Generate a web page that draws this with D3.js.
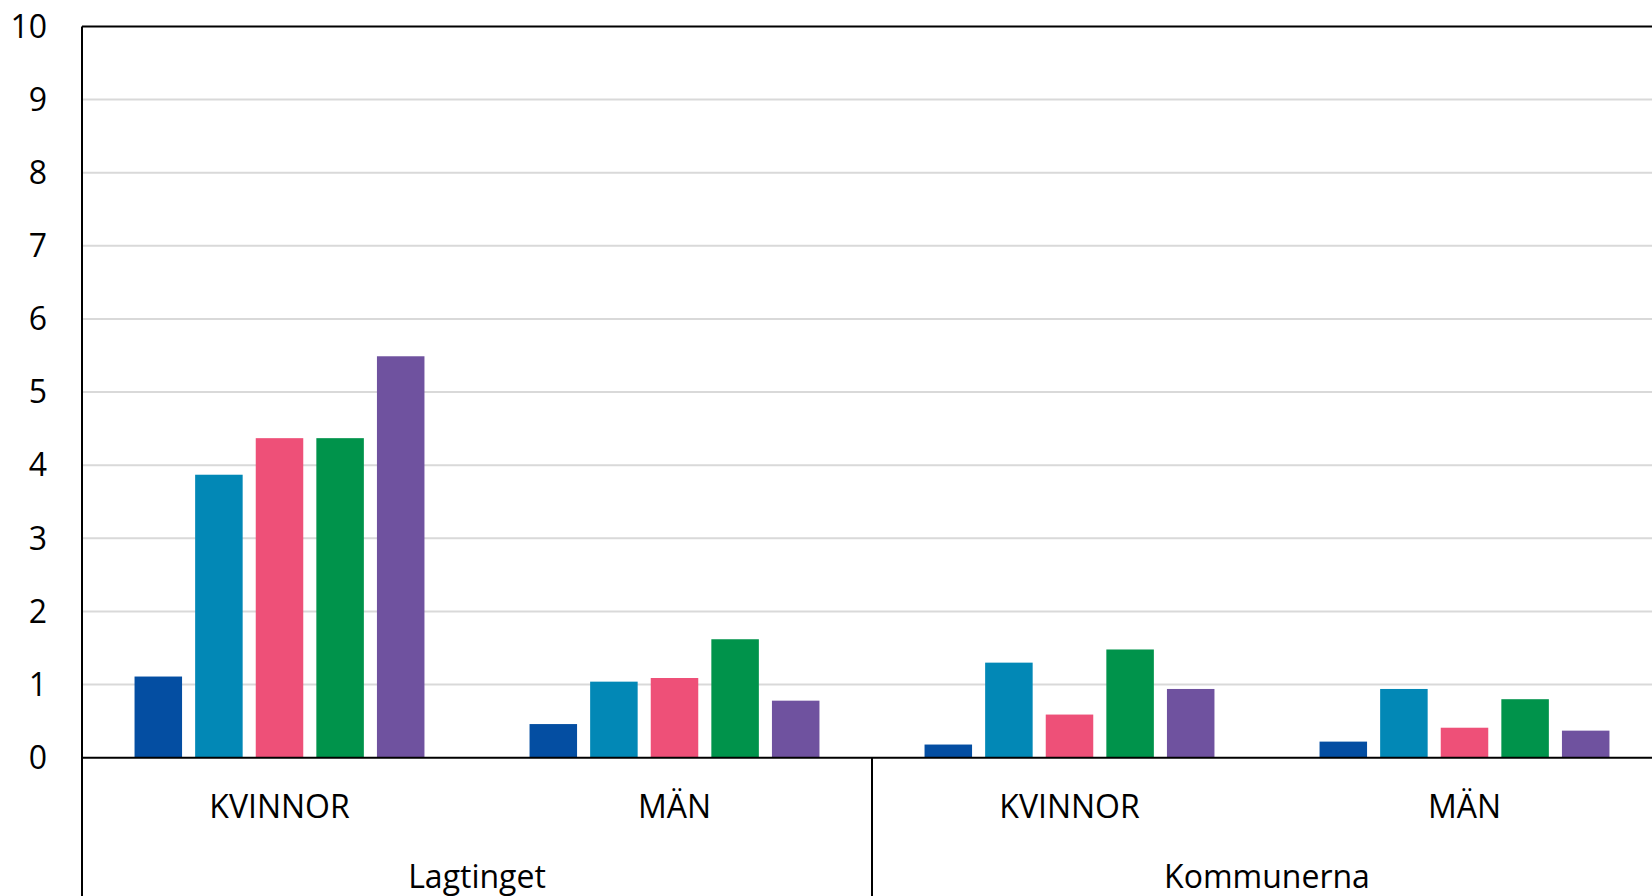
<!DOCTYPE html>
<html>
<head>
<meta charset="utf-8">
<script src="https://cdn.jsdelivr.net/npm/d3@7"></script>
<style>
  html, body { margin: 0; padding: 0; background: #fff; overflow: hidden; }
  #chart svg { display: block; }
  text { font-family: "Open Sans", "Noto Sans", sans-serif; fill: #000; }
</style>
</head>
<body>
<div id="chart"></div>
<script>
const __CONFIG__ = {
  main_id: "chart",
  width: 1652,
  height: 896,
  left: 82,
  right: 1662,   // plot runs past the window edge, as in the original
  top: 26.5,
  bottom: 757.7,
  font_size: 32
}

// groups and their sub categories
const groups = ["Lagtinget", "Kommunerna"];
const categories = ["KVINNOR", "MÄN"];
const y_ticks = [0, 1, 2, 3, 4, 5, 6, 7, 8, 9, 10];

// one array per series, order: Lagtinget KVINNOR, Lagtinget MÄN, Kommunerna KVINNOR, Kommunerna MÄN
const series_names = ["serie 1", "serie 2", "serie 3", "serie 4", "serie 5"];
const serie_1 = [1.11, 0.46, 0.18, 0.22];
const serie_2 = [3.87, 1.04, 1.30, 0.94];
const serie_3 = [4.37, 1.09, 0.59, 0.41];
const serie_4 = [4.37, 1.62, 1.48, 0.80];
const serie_5 = [5.49, 0.78, 0.94, 0.37];
const colors = ["#044ea2", "#0288b6", "#ee5078", "#00934b", "#6f529f"];

function select_main(config=__CONFIG__) {
  return d3.select(`#${config.main_id}`);
}

function draw(config=__CONFIG__) {
  const svg = select_main().append("svg")
    .attr("width", config.width)
    .attr("height", config.height);

  const all_series = [serie_1, serie_2, serie_3, serie_4, serie_5];
  const slots = [];
  groups.forEach(g => categories.forEach(c => slots.push(`${g}|${c}`)));

  const y = d3.scaleLinear()
    .domain([0, 10])
    .range([config.bottom, config.top]);

  const x0 = d3.scaleBand()
    .domain(slots)
    .range([config.left, config.right])
    .padding(0);

  const x1 = d3.scaleBand()
    .domain(series_names)
    .range([0, x0.bandwidth()])
    .paddingInner(0.216)
    .paddingOuter(0.867);

  // gridlines
  svg.append("g")
    .selectAll("line")
    .data(y_ticks.filter(d => d > 0 && d < 10))
    .join("line")
    .attr("x1", config.left)
    .attr("x2", config.right)
    .attr("y1", d => y(d))
    .attr("y2", d => y(d))
    .attr("stroke", "#d9d9d9")
    .attr("stroke-width", 2);

  // bars
  const rows = slots.map((s, i) => ({
    slot: s,
    values: series_names.map((name, j) => ({name: name, value: all_series[j][i], color: colors[j]}))
  }));

  svg.append("g")
    .selectAll("g")
    .data(rows)
    .join("g")
    .attr("transform", d => `translate(${x0(d.slot)},0)`)
    .selectAll("rect")
    .data(d => d.values)
    .join("rect")
    .attr("x", d => x1(d.name))
    .attr("y", d => y(d.value))
    .attr("width", x1.bandwidth())
    .attr("height", d => y(0) - y(d.value))
    .attr("fill", d => d.color);

  // frame lines: top, zero line, left axis
  const frame = svg.append("g")
    .attr("stroke", "#000")
    .attr("stroke-width", 2);
  frame.append("line")
    .attr("x1", config.left).attr("x2", config.right)
    .attr("y1", y(10)).attr("y2", y(10));
  frame.append("line")
    .attr("x1", config.left).attr("x2", config.right)
    .attr("y1", y(0)).attr("y2", y(0));
  frame.append("line")
    .attr("x1", config.left).attr("x2", config.left)
    .attr("y1", y(10)).attr("y2", config.height);

  // dividers between groups
  const group_width = x0.bandwidth() * categories.length;
  frame.selectAll("line.divider")
    .data(groups.slice(1))
    .join("line")
    .classed("divider", true)
    .attr("x1", (d, i) => config.left + group_width * (i + 1))
    .attr("x2", (d, i) => config.left + group_width * (i + 1))
    .attr("y1", y(0))
    .attr("y2", config.height);

  // y labels
  svg.append("g")
    .selectAll("text")
    .data(y_ticks)
    .join("text")
    .attr("x", 47)
    .attr("y", d => y(d))
    .attr("dy", "0.35em")
    .attr("text-anchor", "end")
    .style("font-size", `${config.font_size}px`)
    .text(d => d);

  // category labels
  svg.append("g")
    .selectAll("text")
    .data(slots)
    .join("text")
    .attr("x", d => x0(d) + x0.bandwidth() / 2)
    .attr("y", 818)
    .attr("text-anchor", "middle")
    .style("font-size", `${config.font_size}px`)
    .text(d => d.split("|")[1]);

  // group labels
  svg.append("g")
    .selectAll("text")
    .data(groups)
    .join("text")
    .attr("x", (d, i) => config.left + group_width * (i + 0.5))
    .attr("y", 888)
    .attr("text-anchor", "middle")
    .style("font-size", `${config.font_size}px`)
    .text(d => d);
}

draw();
</script>
</body>
</html>
